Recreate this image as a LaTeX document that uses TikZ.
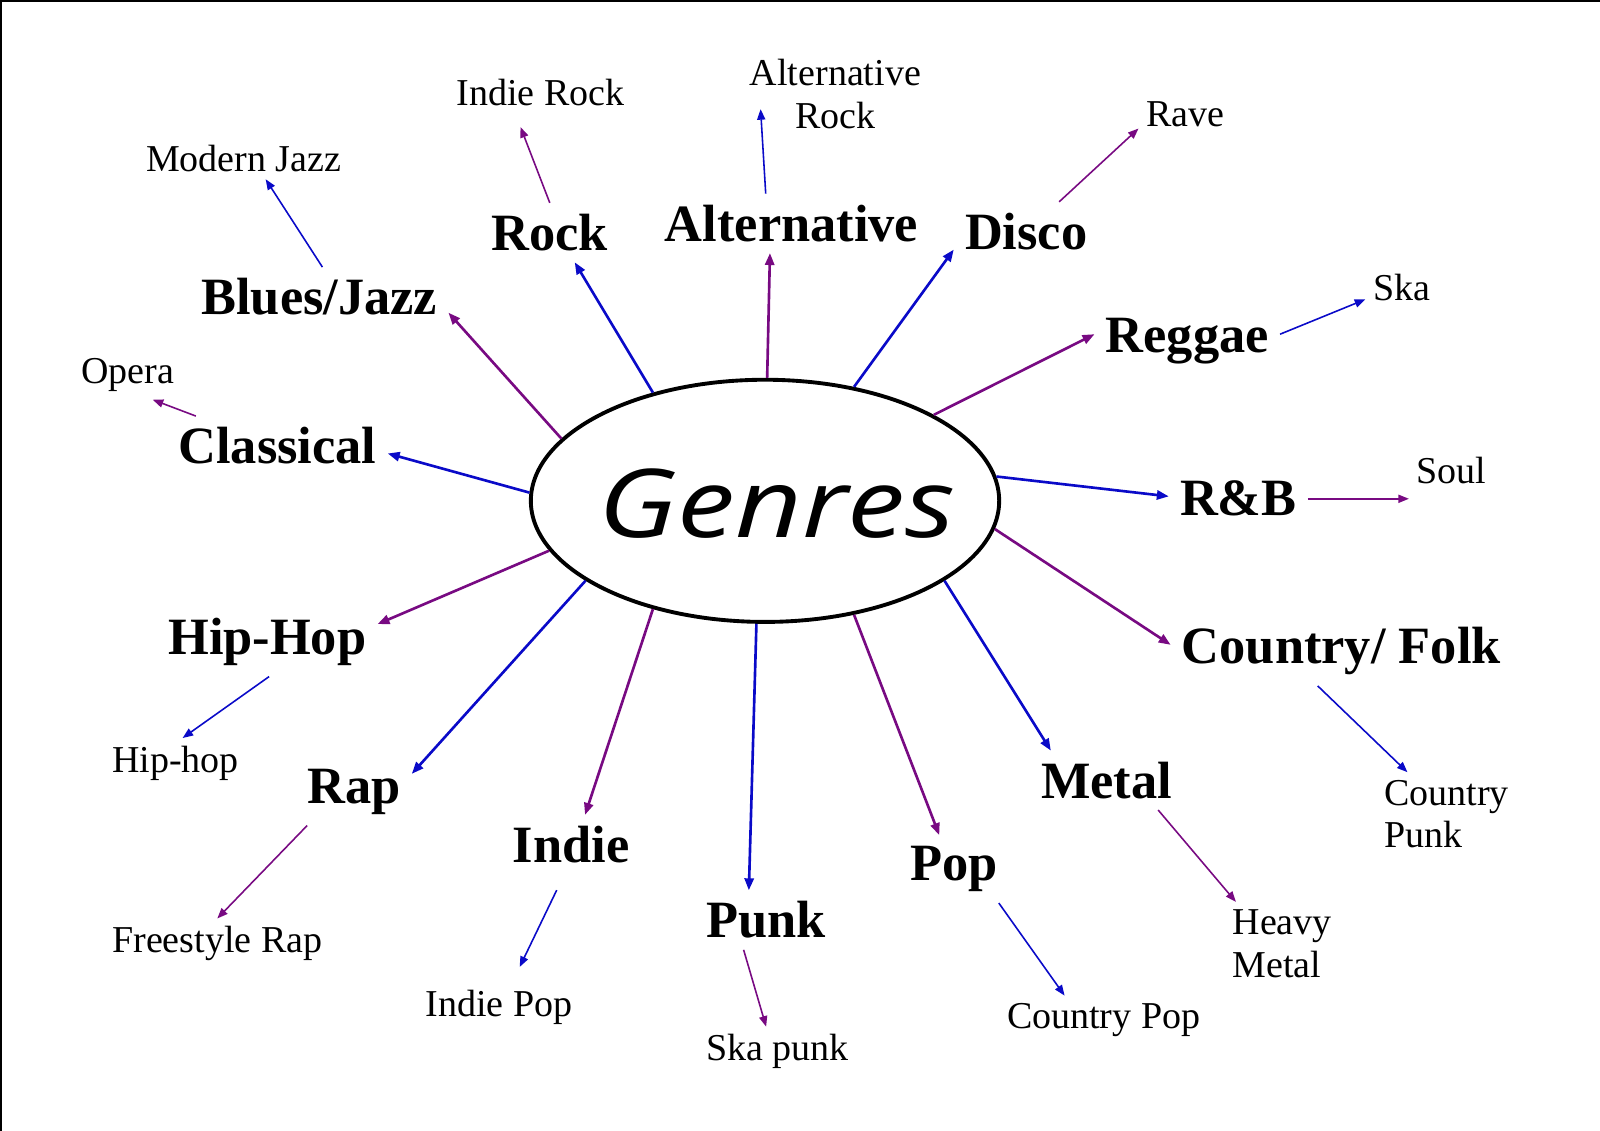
\documentclass[tikz,border=0pt]{standalone}
\usepackage{fontspec}
\setmainfont{Liberation Serif}
\newfontfamily\genresfont{Open Sans}[FakeStretch=1.22]
\usetikzlibrary{shapes.geometric}
\usetikzlibrary{arrows.meta}
\usetikzlibrary{calc}
\definecolor{genblue}{RGB}{10,10,200}
\definecolor{genpurple}{RGB}{120,10,130}

\begin{document}
\begin{tikzpicture}[x=0.0102cm,y=-0.0102cm,
  genre/.style={font=\fontsize{14.9}{17}\selectfont\bfseries,inner sep=3pt},
  sub/.style={font=\fontsize{10.8}{12.1}\selectfont,inner sep=2pt,align=center},
  bigblue/.style={-{Triangle[length=3.4pt,width=2.6pt]},genblue,line width=0.75pt},
  bigpurple/.style={-{Triangle[length=3.4pt,width=2.6pt]},genpurple,line width=0.75pt},
  smallblue/.style={-{Triangle[length=3pt,width=2.3pt]},genblue,line width=0.45pt},
  smallpurple/.style={-{Triangle[length=3pt,width=2.3pt]},genpurple,line width=0.45pt}]
\useasboundingbox (0,0) rectangle (1568.6,1108.8);
\draw[line width=0.8pt] (1568.6,1) -- (1,1) -- (1,1108.8);

\node[ellipse,draw,line width=1.1pt,minimum width=4.68cm,minimum height=2.42cm] (G) at (750,491) {};
\node[anchor=base] (genres) at (762,527) {\genresfont\itshape\fontsize{27}{31}\selectfont Genres};

\node[genre] (bluesjazz) at (313,291) {Blues/Jazz};
\node[genre] (rock) at (539,228) {Rock};
\node[genre] (alt) at (776,219) {Alternative};
\node[genre] (disco) at (1006,227) {Disco};
\node[genre] (reggae) at (1164,334) {Reggae};
\node[genre] (classical) at (272,437) {Classical};
\node[genre] (rnb) at (1214,489) {R\&B};
\node[genre] (hiphop) at (262,629) {Hip-Hop};
\node[genre] (country) at (1315,638) {Country/ Folk};
\node[genre] (rap) at (347,776) {Rap};
\node[genre] (indie) at (560,828) {Indie};
\node[genre] (punk) at (751,902) {Punk};
\node[genre] (pop) at (935,852) {Pop};
\node[genre] (metal) at (1085,765) {Metal};

\node[sub] (modjazz) at (239,155) {Modern Jazz};
\node[sub] (indierock) at (530,91) {Indie Rock};
\node[sub] (altrock) at (819,92) {Alternative\\Rock};
\node[sub] (rave) at (1162,112) {Rave};
\node[sub] (ska) at (1374,282) {Ska};
\node[sub] (opera) at (125,368) {Opera};
\node[sub] (soul) at (1423,461) {Soul};
\node[sub] (hiphopsub) at (172,748) {Hip-hop};
\node[sub,align=left] (countrypunk) at (1418,798) {Country\\Punk};
\node[sub] (freestyle) at (213,925) {Freestyle Rap};
\node[sub] (indiepop) at (489,988) {Indie Pop};
\node[sub] (skapunk) at (762,1031) {Ska punk};
\node[sub] (countrypop) at (1082,1000) {Country Pop};
\node[sub,align=left] (heavymetal) at (1257,925) {Heavy\\Metal};

\path[bigpurple] (G.163) edge (bluesjazz.-7.5);
\path[bigblue] (G.136) edge (rock.-50);
\path[bigpurple] (G.89.5) edge (alt.-126);
\path[bigblue] (G.52) edge (disco.194);
\path[bigpurple] (G.27) edge (reggae.176.5);
\path[bigblue] (G.178.5) edge (classical.-4);
\path[bigblue] (G.6) edge (rnb.178.5);
\path[bigpurple] (G.193) edge (hiphop.9);
\path[bigpurple] (G.-7) edge (country.178);
\path[bigblue] (G.204) edge (rap.17.5);
\path[bigpurple] (G.224) edge (indie.65);
\path[bigblue] (G.266) edge (punk.120);
\path[bigpurple] (G.308) edge (pop.113);
\path[bigblue] (G.-24) edge (metal.152);

\path[smallblue] (bluesjazz.84) edge (modjazz.-44);
\path[smallpurple,shorten >=4pt] (rock.90) edge (indierock.-140);
\path[smallblue] (alt.131) edge ($(altrock.west)+(18,15)$);
\path[smallpurple] (disco.42) edge (rave.-163.5);
\path[smallblue] (reggae.4) edge (ska.-162);
\path[smallpurple] (classical.160) edge (opera.-44);
\path[smallpurple] (rnb.east) edge (rnb.east -| soul.west);
\path[smallblue] (hiphop.-87) edge (hiphopsub.74);
\path[smallblue] (country.-124) edge (countrypunk.133);
\path[smallpurple] (rap.-144) edge (freestyle.90);
\path[smallblue,shorten <=5pt,shorten >=5pt] (indie.-103) edge (indiepop.62);
\path[smallpurple] (punk.-127) edge (skapunk.114);
\path[smallblue] (pop.-37) edge (countrypop.148);
\path[smallpurple] (metal.-30) edge (heavymetal.138);
\end{tikzpicture}
\end{document}
